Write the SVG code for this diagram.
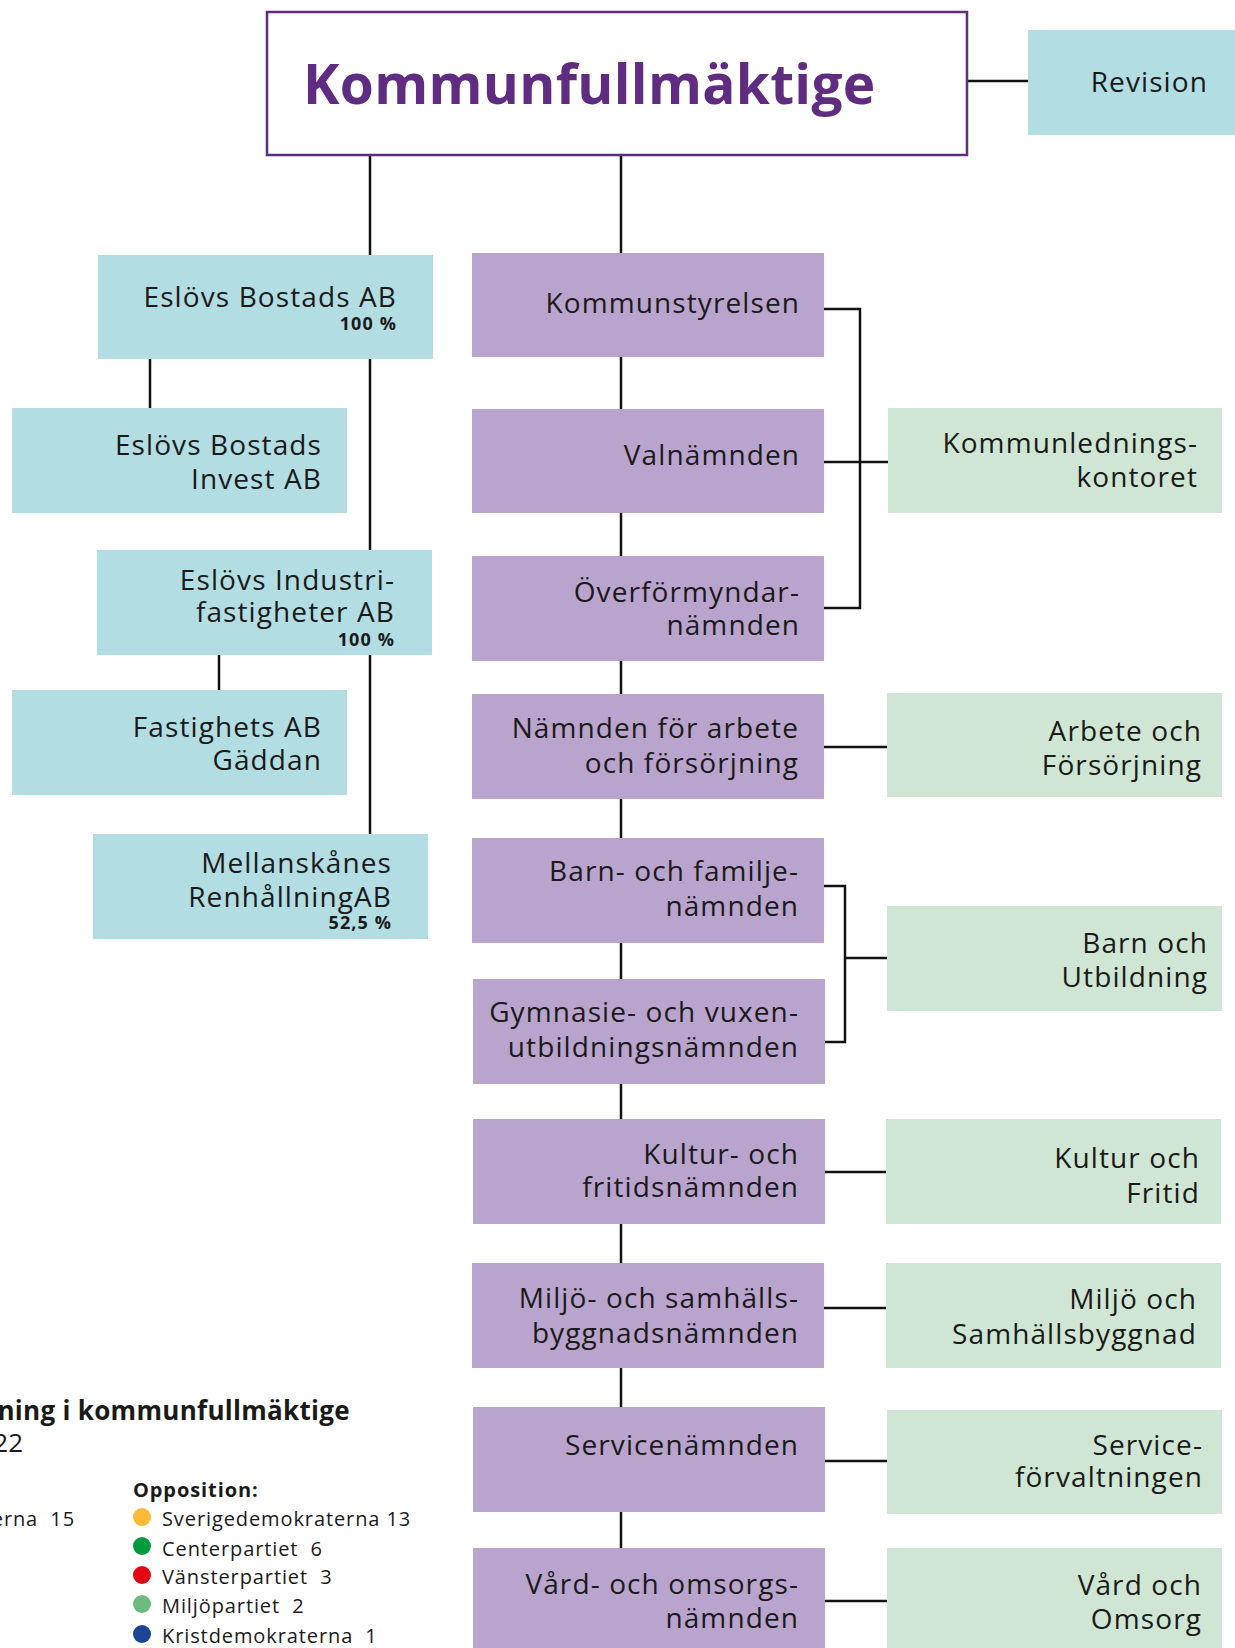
<svg xmlns="http://www.w3.org/2000/svg" width="1235" height="1648" viewBox="0 0 1235 1648">
<style>
.t{font-family:"Open Sans","Liberation Sans",sans-serif;font-size:28px;fill:#1a1a1a;text-anchor:end;letter-spacing:1.1px}
.pct{font-family:"Open Sans","Liberation Sans",sans-serif;font-size:18px;font-weight:bold;fill:#1a1a1a;text-anchor:end;letter-spacing:1.1px}
.blue{fill:#b2dde2}
.purple{fill:#b9a4cd}
.green{fill:#d0e6d4}
.c{stroke:#111;stroke-width:2.5;fill:none}
.lg{font-family:"Open Sans","Liberation Sans",sans-serif;font-size:20px;fill:#1a1a1a;letter-spacing:0.9px}
</style>
<rect width="1235" height="1648" fill="#fff"/>
<g id="connectors">
<line class="c" x1="968" y1="81" x2="1028" y2="81"/>
<line class="c" x1="370" y1="155" x2="370" y2="834"/>
<line class="c" x1="621" y1="155" x2="621" y2="1648"/>
<line class="c" x1="150" y1="359" x2="150" y2="408"/>
<line class="c" x1="219" y1="655" x2="219" y2="690"/>
<polyline class="c" points="824,309 860,309 860,608 824,608"/>
<line class="c" x1="824" y1="462" x2="888" y2="462"/>
<line class="c" x1="824" y1="747" x2="887" y2="747"/>
<polyline class="c" points="824,886 845,886 845,1042 825,1042"/>
<line class="c" x1="845" y1="958" x2="887" y2="958"/>
<line class="c" x1="825" y1="1172" x2="886" y2="1172"/>
<line class="c" x1="824" y1="1308" x2="886" y2="1308"/>
<line class="c" x1="825" y1="1461" x2="887" y2="1461"/>
<line class="c" x1="825" y1="1601" x2="887" y2="1601"/>
</g>
<g id="kommunfullmaktige">
<rect x="267" y="12" width="700" height="143" fill="#fff" stroke="#5f2c82" stroke-width="2.5"/>
<text x="303" y="104" font-family="'Open Sans','Liberation Sans',sans-serif" font-size="55" font-weight="bold" fill="#5f2c82" letter-spacing="0.3">Kommunfullmäktige</text>
</g>
<g id="revision">
<rect class="blue" x="1028" y="30" width="207" height="105"/>
<text class="t" x="1208" y="92">Revision</text>
</g>
<g id="eslovs-bostads">
<rect class="blue" x="98" y="255" width="335" height="104"/>
<text class="t" x="397" y="307">Eslövs Bostads AB</text>
<text class="pct" x="397" y="330">100 %</text>
</g>
<g id="eslovs-bostads-invest">
<rect class="blue" x="12" y="408" width="335" height="105"/>
<text class="t" x="322" y="455">Eslövs Bostads</text>
<text class="t" x="322" y="489">Invest AB</text>
</g>
<g id="eslovs-industrifastigheter">
<rect class="blue" x="97" y="550" width="335" height="105"/>
<text class="t" x="395" y="590">Eslövs Industri-</text>
<text class="t" x="395" y="622">fastigheter AB</text>
<text class="pct" x="395" y="646">100 %</text>
</g>
<g id="fastighets-gaddan">
<rect class="blue" x="12" y="690" width="335" height="105"/>
<text class="t" x="322" y="737">Fastighets AB</text>
<text class="t" x="322" y="770">Gäddan</text>
</g>
<g id="mellanskanes">
<rect class="blue" x="93" y="834" width="335" height="105"/>
<text class="t" x="392" y="873">Mellanskånes</text>
<text class="t" x="392" y="907">RenhållningAB</text>
<text class="pct" x="392" y="929">52,5 %</text>
</g>
<g id="kommunstyrelsen">
<rect class="purple" x="472" y="253" width="352" height="104"/>
<text class="t" x="800" y="313">Kommunstyrelsen</text>
</g>
<g id="valnamnden">
<rect class="purple" x="472" y="409" width="352" height="104"/>
<text class="t" x="800" y="465">Valnämnden</text>
</g>
<g id="overformyndarnamnden">
<rect class="purple" x="472" y="556" width="352" height="105"/>
<text class="t" x="800" y="602">Överförmyndar-</text>
<text class="t" x="800" y="635">nämnden</text>
</g>
<g id="namnden-arbete">
<rect class="purple" x="472" y="694" width="352" height="105"/>
<text class="t" x="799" y="738">Nämnden för arbete</text>
<text class="t" x="799" y="773">och försörjning</text>
</g>
<g id="barn-familjenamnden">
<rect class="purple" x="472" y="838" width="352" height="105"/>
<text class="t" x="799" y="881">Barn- och familje-</text>
<text class="t" x="799" y="916">nämnden</text>
</g>
<g id="gymnasie-vuxen">
<rect class="purple" x="473" y="979" width="352" height="105"/>
<text class="t" x="799" y="1022">Gymnasie- och vuxen-</text>
<text class="t" x="799" y="1057">utbildningsnämnden</text>
</g>
<g id="kultur-fritidsnamnden">
<rect class="purple" x="473" y="1119" width="352" height="105"/>
<text class="t" x="799" y="1164">Kultur- och</text>
<text class="t" x="799" y="1197">fritidsnämnden</text>
</g>
<g id="miljo-samhall">
<rect class="purple" x="472" y="1263" width="352" height="105"/>
<text class="t" x="799" y="1308">Miljö- och samhälls-</text>
<text class="t" x="799" y="1343">byggnadsnämnden</text>
</g>
<g id="servicenamnden">
<rect class="purple" x="473" y="1407" width="352" height="105"/>
<text class="t" x="799" y="1455">Servicenämnden</text>
</g>
<g id="vard-omsorg-namnden">
<rect class="purple" x="473" y="1548" width="352" height="105"/>
<text class="t" x="799" y="1594">Vård- och omsorgs-</text>
<text class="t" x="799" y="1628">nämnden</text>
</g>
<g id="kommunledningskontoret">
<rect class="green" x="888" y="408" width="334" height="105"/>
<text class="t" x="1198" y="453">Kommunlednings-</text>
<text class="t" x="1198" y="487">kontoret</text>
</g>
<g id="arbete-forsorjning">
<rect class="green" x="887" y="693" width="335" height="104"/>
<text class="t" x="1202" y="741">Arbete och</text>
<text class="t" x="1202" y="775">Försörjning</text>
</g>
<g id="barn-utbildning">
<rect class="green" x="887" y="906" width="335" height="105"/>
<text class="t" x="1208" y="953">Barn och</text>
<text class="t" x="1208" y="987">Utbildning</text>
</g>
<g id="kultur-fritid">
<rect class="green" x="886" y="1119" width="335" height="105"/>
<text class="t" x="1200" y="1168">Kultur och</text>
<text class="t" x="1200" y="1203">Fritid</text>
</g>
<g id="miljo-samhallsbyggnad">
<rect class="green" x="886" y="1263" width="335" height="105"/>
<text class="t" x="1197" y="1309">Miljö och</text>
<text class="t" x="1197" y="1344">Samhällsbyggnad</text>
</g>
<g id="serviceforvaltningen">
<rect class="green" x="887" y="1410" width="335" height="104"/>
<text class="t" x="1203" y="1455">Service-</text>
<text class="t" x="1203" y="1487">förvaltningen</text>
</g>
<g id="vard-omsorg">
<rect class="green" x="887" y="1548" width="335" height="105"/>
<text class="t" x="1202" y="1595">Vård och</text>
<text class="t" x="1202" y="1629">Omsorg</text>
</g>
<g id="legend">
<text x="350" y="1420" font-family="'Open Sans','Liberation Sans',sans-serif" font-size="26" font-weight="bold" fill="#1a1a1a" text-anchor="end" letter-spacing="0.3">ning i kommunfullmäktige</text>
<text x="23" y="1452" font-family="'Open Sans','Liberation Sans',sans-serif" font-size="26" fill="#1a1a1a" text-anchor="end">22</text>
<text class="lg" x="75" y="1526" text-anchor="end" xml:space="preserve">erna  15</text>
<text class="lg" x="133" y="1497" font-weight="bold" letter-spacing="0.3">Opposition:</text>
<circle cx="142" cy="1517" r="9" fill="#fbb935"/>
<circle cx="142" cy="1546" r="9" fill="#009a3d"/>
<circle cx="142" cy="1575" r="9" fill="#e30613"/>
<circle cx="142" cy="1604" r="9" fill="#6dbb7f"/>
<circle cx="142" cy="1634" r="9" fill="#1a4595"/>
<text class="lg" x="162" y="1526">Sverigedemokraterna 13</text>
<text class="lg" x="162" y="1556" xml:space="preserve">Centerpartiet  6</text>
<text class="lg" x="162" y="1584" xml:space="preserve">Vänsterpartiet  3</text>
<text class="lg" x="162" y="1613" xml:space="preserve">Miljöpartiet  2</text>
<text class="lg" x="162" y="1643" xml:space="preserve">Kristdemokraterna  1</text>
</g>
</svg>
